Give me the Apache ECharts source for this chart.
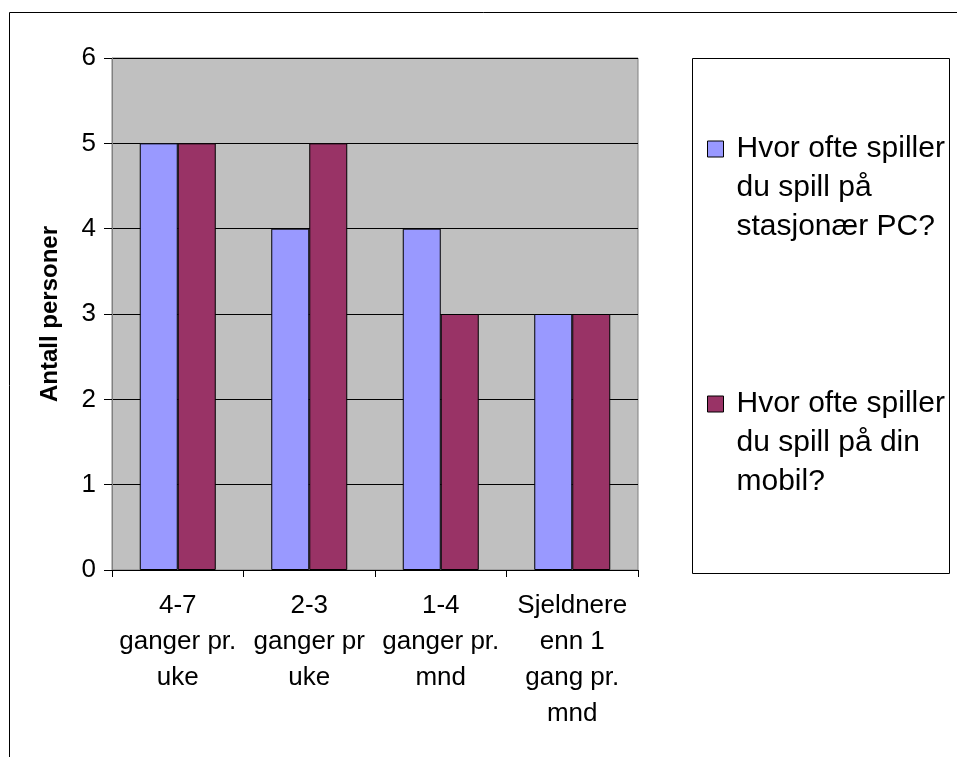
<!DOCTYPE html>
<html>
<head>
<meta charset="utf-8">
<script src="https://cdn.jsdelivr.net/npm/echarts@6/dist/echarts.min.js"></script>
<style>
html,body{margin:0;padding:0;background:#fff;}
#chart{width:957px;height:757px;}
</style>
</head>
<body>
<div id="chart"></div>
<script>
// ---- data ----
var categories = ['4-7\nganger pr.\nuke', '2-3\nganger pr\nuke', '1-4\nganger pr.\nmnd', 'Sjeldnere\nenn 1\ngang pr.\nmnd'];
var seriesNames = ['Hvor ofte spiller du spill på stasjonær PC?', 'Hvor ofte spiller du spill på din mobil?'];
var legendLabels = ['Hvor ofte spiller\ndu spill på\nstasjonær PC?', 'Hvor ofte spiller\ndu spill på din\nmobil?'];
var pcValues = [5, 4, 4, 3];
var mobilValues = [5, 5, 3, 3];
var yTicks = [0, 1, 2, 3, 4, 5, 6];
var yTitle = 'Antall personer';

var FONT = 'Liberation Sans, Arial, sans-serif';
var chart = echarts.init(document.getElementById('chart'));

var LH = 39;
function legendFor(i, iconCenter) {
  return {
    data: [seriesNames[i]],
    left: 707,
    top: iconCenter - 2.5 * LH,
    padding: 0,
    orient: 'vertical',
    itemWidth: 16,
    itemHeight: 16,
    icon: 'rect',
    selectedMode: false,
    itemStyle: { borderColor: '#000', borderWidth: 1 },
    // two leading blank lines keep the marker level with the first text line
    formatter: function () { return '\n\n' + legendLabels[i]; },
    textStyle: {
      fontFamily: FONT, fontSize: 30, color: '#000', lineHeight: LH,
      padding: [0, 0, 0, 8]
    }
  };
}

chart.setOption({
  animation: false,
  backgroundColor: '#fff',
  graphic: [
    { type: 'rect', left: 7, top: 10, shape: { x: 0, y: 0, width: 1000, height: 1000 },
      style: { fill: 'none', stroke: '#000', lineWidth: 1 }, silent: true },
    { type: 'rect', left: 692, top: 58, shape: { x: 0, y: 0, width: 257, height: 515 },
      style: { fill: '#fff', stroke: '#000', lineWidth: 1 }, silent: true, z: -1 }
  ],
  legend: [legendFor(0, 149), legendFor(1, 404)],
  grid: {
    left: 112, top: 58, right: 319, bottom: 187,
    show: true, backgroundColor: '#C0C0C0', borderColor: '#808080', borderWidth: 1
  },
  xAxis: {
    type: 'category',
    data: categories,
    axisLine: { lineStyle: { color: '#000', width: 1 } },
    axisTick: { show: true, length: 7, lineStyle: { color: '#000' } },
    axisLabel: { interval: 0, margin: 18, fontFamily: FONT, fontSize: 26, color: '#000', lineHeight: 36, align: 'center' }
  },
  yAxis: {
    type: 'value',
    min: yTicks[0], max: yTicks[yTicks.length - 1], interval: 1,
    name: yTitle,
    nameLocation: 'middle',
    nameGap: 50,
    nameRotate: 90,
    nameTextStyle: { fontFamily: FONT, fontSize: 24, fontWeight: 'bold', color: '#000' },
    axisLine: { show: true, lineStyle: { color: '#808080', width: 1 } },
    axisTick: { show: true, length: 8, lineStyle: { color: '#000' } },
    axisLabel: { margin: 16, fontFamily: FONT, fontSize: 26, color: '#000' },
    splitLine: { show: true, lineStyle: { color: '#000', width: 1 } }
  },
  series: [
    { name: seriesNames[0], type: 'bar', data: pcValues, barWidth: 38, barGap: '0%',
      itemStyle: { color: '#9999FF', borderColor: '#000', borderWidth: 1 } },
    { name: seriesNames[1], type: 'bar', data: mobilValues, barWidth: 38, barGap: '0%',
      itemStyle: { color: '#993366', borderColor: '#000', borderWidth: 1 } }
  ]
});
</script>
</body>
</html>
